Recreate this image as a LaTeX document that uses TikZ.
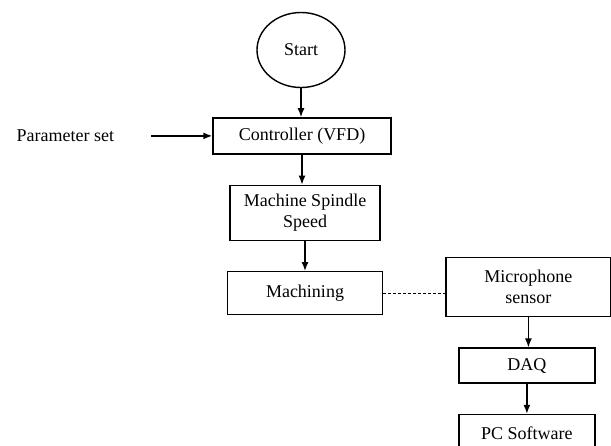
\documentclass[tikz,border=0pt]{standalone}
\usepackage{fontspec}
\setmainfont{Liberation Serif}
\usetikzlibrary{shapes.geometric, arrows.meta, positioning}
\definecolor{lineColor}{RGB}{0, 0, 0}
\tikzset{
    font=\fontsize{18}{21}\selectfont,
    % --- boxes ---
    procBox/.style={
        rectangle, draw=lineColor, line width=1.4pt,
        align=center, inner sep=2pt
    },
    startCircle/.style={
        ellipse, draw=lineColor, line width=1.4pt,
        minimum width=88pt, minimum height=75pt, inner sep=0pt
    },
    plainText/.style={ inner sep=0pt },
    %
    % --- connectors ---
    flowArrow/.style={
        draw=lineColor, line width=1.4pt,
        -{Latex[length=9pt, width=7pt]}
    },
    linkDashed/.style={
        draw=lineColor, line width=0.7pt, dash pattern=on 3pt off 2pt
    }
}
\begin{document}
\begin{tikzpicture}[x=1pt, y=-1pt, node distance=30pt]
	\useasboundingbox (0,0) rectangle (611,445);

	% =========================================
	% 1. main column
	% =========================================
	\node [startCircle] (start) at (301,50) {Start};

	\node [procBox, below=29pt of start, xshift=1pt, minimum width=178pt, minimum height=36pt] (ctrl) {Controller (VFD)};

	\node [procBox, below=of ctrl, xshift=3pt, minimum width=150pt, minimum height=55pt] (spindle) {
		Machine Spindle\\
		Speed
	};

	\node [procBox, below=of spindle, minimum width=155pt, minimum height=43pt] (mach) {Machining};

	% input
	\node [plainText, left=98pt of ctrl] (param) {Parameter set};

	% =========================================
	% 2. sensor column
	% =========================================
	\node [procBox, right=62pt of mach, yshift=6pt, minimum width=165pt, minimum height=59pt] (mic) {
		Microphone\\
		sensor
	};

	\node [procBox, below=of mic, xshift=-1.5pt, minimum width=136pt, minimum height=35pt] (daq) {DAQ};

	\node [procBox, below=of daq, minimum width=136pt, minimum height=37pt] (pc) {PC Software};

	% =========================================
	% 3. connectors
	% =========================================
	\draw [flowArrow] (start) -- (start |- ctrl.north);
	\draw [flowArrow] (ctrl) -- (ctrl |- spindle.north);
	\draw [flowArrow] (spindle) -- (spindle |- mach.north);
	\draw [flowArrow, shorten <=37pt] (param.east) -- (ctrl.west);

	\draw [linkDashed] (mach) -- (mach -| mic.west);

	\draw [flowArrow] (mic) -- (mic |- daq.north);
	\draw [flowArrow] (daq) -- (daq |- pc.north);

\end{tikzpicture}
\end{document}
